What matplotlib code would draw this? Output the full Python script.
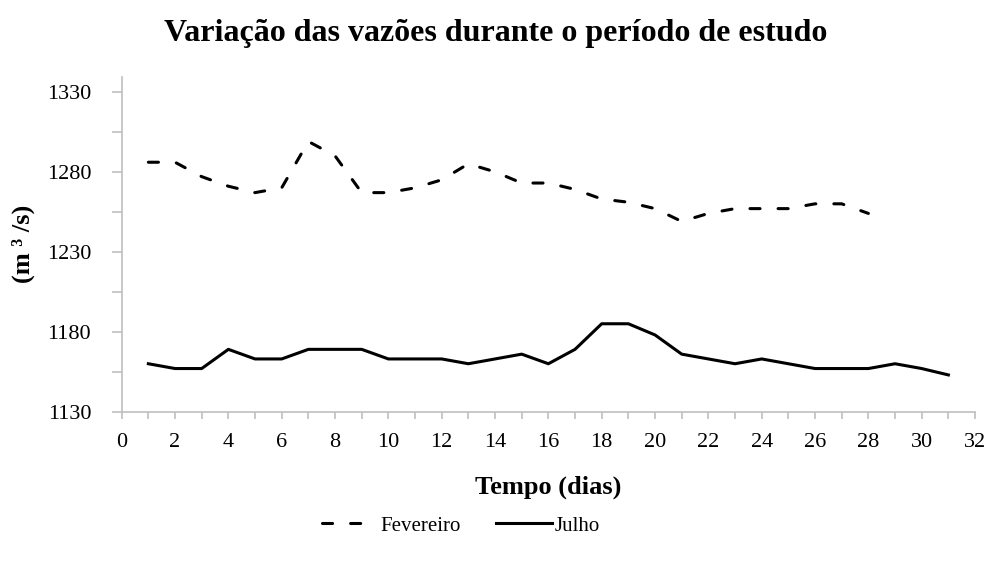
import numpy as np
import matplotlib.pyplot as plt
from matplotlib.ticker import MultipleLocator

plt.rcParams['font.family'] = ['Liberation Serif', 'DejaVu Serif']

# Data
dias_fev = list(range(1, 29))
fevereiro = [1286, 1286, 1277, 1271, 1267, 1270, 1299, 1290, 1267, 1267,
             1270, 1275, 1285, 1280, 1273, 1273, 1269, 1263, 1261, 1257,
             1249, 1254, 1257, 1257, 1257, 1260, 1260, 1254]
dias_jul = list(range(1, 32))
julho = [1160, 1157, 1157, 1169, 1163, 1163, 1169, 1169, 1169, 1163,
         1163, 1163, 1160, 1163, 1166, 1160, 1169, 1185, 1185, 1178,
         1166, 1163, 1160, 1163, 1160, 1157, 1157, 1157, 1160, 1157, 1153]

fig = plt.figure(figsize=(9.91, 5.63), dpi=100)
ax = fig.add_axes([0.1228, 0.2687, 0.8611, 0.5951])

ax.plot(dias_fev, fevereiro, color='black', lw=2.2, dashes=(3.3, 5.9),
        dash_capstyle='round', label='Fevereiro')
ax.plot(dias_jul, julho, color='black', lw=2.2, label='Julho')

ax.set_xlim(0, 32)
ax.set_ylim(1130, 1339.5)
ax.xaxis.set_major_locator(MultipleLocator(2))
ax.xaxis.set_minor_locator(MultipleLocator(1))
ax.set_yticks(np.arange(1130, 1331, 50))
ax.set_yticks(np.arange(1155, 1331, 50), minor=True)

for s in ['top', 'right']:
    ax.spines[s].set_visible(False)
for s in ['left', 'bottom']:
    ax.spines[s].set_color('#bfbfbf')
    ax.spines[s].set_linewidth(1.2)

ax.tick_params(axis='both', which='both', color='#bfbfbf', width=1.2,
               length=5, direction='out', labelsize=16)
ax.tick_params(axis='y', which='both', length=7, pad=15)
ax.tick_params(axis='x', which='major', pad=10)

ax.set_xlabel('Tempo (dias)', fontsize=19, fontweight='bold')
ax.xaxis.set_label_coords(0.5, -0.19)
ax.set_ylabel('(m ³ /s)', fontsize=19, fontweight='bold')
ax.yaxis.set_label_coords(-0.102, 0.5)
fig.suptitle('Variação das vazões durante o período de estudo',
             fontsize=23, fontweight='bold', y=0.967)

fig.legend(loc='center', bbox_to_anchor=(0.465, 0.066), ncol=2, frameon=False,
           fontsize=15, handlelength=2.7, handletextpad=0.1, columnspacing=1.7)

plt.savefig('out.png', dpi=100)
